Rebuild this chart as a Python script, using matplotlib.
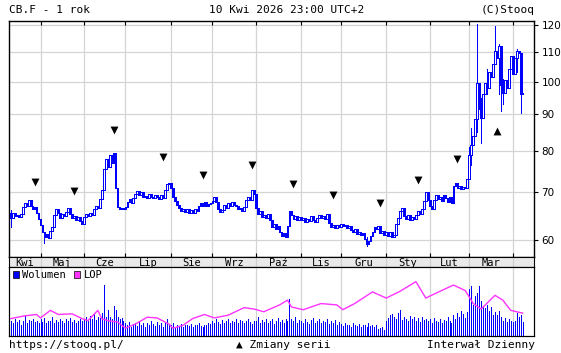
import numpy as np
import pandas as pd
import matplotlib
matplotlib.use("Agg")
import matplotlib.pyplot as plt
from matplotlib.patches import Patch
from matplotlib.ticker import NullLocator

# Notowania dzienne CB.F (zamkniecia), od 10 kwi 2025
close = [
    # kwi 2025
    64.5, 65.5, 64.8, 65.0, 64.6, 65.3, 66.8, 67.5, 67.0, 68.2, 67.0, 66.4, 66.8, 65.5, 64.2,
    # maj
    63.0, 61.5, 60.5, 61.2, 60.3, 61.8, 62.5, 65.0, 66.3, 65.5, 64.5, 65.2, 64.8, 65.6, 66.6,
    65.3, 64.5, 64.9, 64.0, 64.6, 63.8, 63.2,
    # cze
    64.6, 65.2, 64.8, 65.5, 65.0, 66.2, 67.0, 66.6, 68.5, 70.5, 75.5, 78.0, 76.0, 78.8, 77.0,
    79.3, 71.0, 66.8, 66.2, 66.6, 66.3,
    # lip
    66.8, 67.9, 68.4, 67.6, 68.8, 69.5, 70.2, 69.3, 70.0, 68.9, 69.2, 68.7, 69.6, 69.0, 68.6,
    69.3, 68.9, 68.5, 69.4, 68.8, 70.5, 71.8, 72.2,
    # sie
    71.0, 69.0, 68.0, 67.2, 66.5, 65.8, 66.4, 65.6, 66.2, 65.5, 66.0, 65.4, 66.3, 65.8, 66.9,
    67.5, 67.0, 67.8, 66.9, 67.3, 67.6,
    # wrz
    68.0, 69.0, 67.8, 66.3, 65.6, 66.0, 67.2, 66.6, 67.5, 67.0, 67.8, 67.2, 66.9, 66.2, 66.6,
    65.9, 66.8, 68.2, 69.0, 68.3, 70.4, 69.5,
    # paz
    66.5, 65.2, 65.8, 64.6, 65.0, 64.3, 65.3, 64.0, 62.6, 63.2, 62.2, 62.7, 61.5, 60.8, 61.3,
    60.6, 62.8, 65.8, 65.0, 64.2, 64.8, 63.9, 64.6,
    # lis
    64.0, 64.5, 63.6, 64.2, 63.7, 64.8, 64.0, 63.5, 64.3, 65.0, 64.4, 64.9, 64.2, 65.2, 63.4,
    62.6, 63.0, 62.4, 62.9, 62.5,
    # gru
    63.1, 62.7, 63.0, 62.3, 62.8, 62.0, 61.6, 62.2, 61.2, 61.5, 60.9, 61.3, 60.2, 59.3, 59.8,
    60.8, 61.5, 62.6, 62.2, 62.8, 61.4, 61.8, 60.9,
    # sty 2026
    61.5, 60.7, 61.6, 60.6, 61.0, 63.2, 64.5, 65.8, 66.6, 64.8, 64.2, 65.0, 64.0, 64.6, 64.1,
    65.0, 65.8, 65.2, 66.2, 68.0, 70.0, 68.3,
    # lut
    67.0, 66.3, 68.2, 69.4, 68.5, 69.0, 68.1, 69.3, 68.6, 67.8, 68.9, 67.6, 71.5, 72.0, 71.0,
    71.4, 70.8, 71.2, 71.0, 73.0,
    # mar
    79.0, 81.5, 84.0, 88.5, 99.5, 91.5, 89.0, 96.0, 99.5, 98.0, 103.0, 101.5, 106.0, 110.5,
    108.0, 112.0, 99.0, 96.5, 100.5, 98.0, 104.0, 108.5,
    # kwi 2026
    102.5, 108.0, 110.5, 109.5, 96.0, 96.5,
]
first_open = 65.5

# wybrane knoty (indeks sesji, minimum, maksimum)
wick_idx = [0, 17, 180, 232, 233, 236, 238, 241, 245, 247, 248, 249, 256, 258]
wick_lo = [62.5, 59.5, 58.8, 75.8, 76.5, 85.0, 82.0, 96.0, 106.0, 96.0, 91.0, 93.0, 103.0, 90.5]
wick_hi = [66.0, 61.5, 60.5, 81.0, 86.0, 120.5, 95.0, 104.0, 119.5, 113.0, 100.0, 101.0, 111.0, 99.5]

# wolumen (jedn. umowne)
volume = [
    22, 19, 24, 20, 23, 15, 21, 29, 18, 23, 21, 25, 20, 22, 18,
    24, 20, 26, 19, 22, 21, 27, 18, 23, 20, 25, 22, 19, 24, 21, 26, 20, 23, 18, 22, 25, 21,
    24, 27, 22, 29, 25, 31, 23, 28, 26, 33, 74, 28, 37, 27, 25, 44, 38, 27, 24, 26, 21,
    18, 15, 20, 13, 17, 19, 14, 21, 16, 18, 12, 19, 15, 22, 17, 14, 20, 16, 18, 13, 19, 24, 17,
    15, 18, 13, 16, 14, 17, 12, 15, 16, 14, 17, 13, 16, 15, 18, 14, 12, 16, 15, 19, 17,
    22, 18, 24, 20, 17, 23, 19, 21, 25, 18, 22, 20, 24, 19, 23, 21, 18, 22, 25, 20, 17, 21,
    21, 27, 18, 23, 20, 25, 19, 22, 24, 17, 21, 26, 20, 23, 19, 24, 22, 54, 25, 21, 27, 19, 23,
    22, 18, 25, 20, 17, 23, 26, 19, 21, 24, 18, 22, 20, 25, 17, 21, 19, 23, 16, 20,
    17, 14, 19, 15, 16, 13, 18, 15, 14, 17, 12, 16, 15, 13, 18, 14, 16, 12, 15, 10, 11, 13, 9,
    22, 26, 30, 31, 27, 24, 33, 37, 23, 28, 25, 21, 29, 24, 27, 22, 26, 20, 28, 23, 25, 21,
    24, 19, 26, 22, 20, 25, 18, 23, 21, 27, 22, 19, 30, 25, 33, 28, 36, 31, 26, 35,
    68, 72, 45, 58, 62, 72, 50, 44, 40, 45, 36, 42, 30, 34, 30, 36, 28, 22, 26, 20, 24, 21,
    20, 22, 33, 28, 30, 20,
]

# LOP (liczba otwartych pozycji, jedn. umowne)
lop_idx = [0, 7, 13, 15, 20, 24, 31, 36, 39, 44, 46, 49, 54, 58, 63, 69, 74, 80, 82, 87,
           92, 98, 103, 110, 118, 123, 128, 136, 140, 142, 148, 157, 165, 168, 174, 183, 190,
           197, 205, 210, 215, 224, 230, 234, 238, 245, 249, 253, 259]
lop_val = [25, 29, 31, 26, 37, 31, 32, 25, 22, 37, 25, 22, 20, 11, 17, 27, 26, 17, 11, 15,
           25, 31, 26, 30, 41, 39, 35, 45, 52, 42, 38, 47, 45, 38, 47, 64, 55,
           65, 79, 55, 62, 74, 66, 47, 39, 59, 52, 37, 33]

# zmiany serii
roll_idx = [12, 32, 52, 77, 97, 122, 143, 163, 187, 206, 226, 246]
roll_y = [72.4, 70.3, 85.5, 78.4, 73.9, 76.3, 71.9, 69.3, 67.7, 72.8, 77.8, 85.4]
roll_up = [False] * 11 + [True]

yticks = [60, 70, 80, 90, 100, 110, 120]
pl_months = {1: "Sty", 2: "Lut", 3: "Mar", 4: "Kwi", 5: "Maj", 6: "Cze",
             7: "Lip", 8: "Sie", 9: "Wrz", 10: "Paź", 11: "Lis", 12: "Gru"}

BLUE = "#0000ff"
GRID = "#d4d4d4"
MONO = ["DejaVu Sans Mono", "DejaVu Sans"]

dates = pd.bdate_range("2025-04-10", periods=len(close))
x = np.arange(len(close))
close = np.array(close)
opens = np.concatenate([[first_open], close[:-1]])
month_starts = [i for i in range(1, len(dates)) if dates[i].month != dates[i - 1].month]
XMIN, XMAX = -0.7, 265

fig = plt.figure(figsize=(5.61, 3.53), dpi=100)
L, W = 0.0169, 0.9358
ax = fig.add_axes([L, 0.2728, W, 0.6663])
band = fig.add_axes([L, 0.2428, W, 0.0300])
axv = fig.add_axes([L, 0.049, W, 0.1938])

# --- ceny ---
ax.set_yscale("log")
for m in month_starts:
    ax.axvline(m, color=GRID, lw=0.9, zorder=0)
for t in yticks:
    ax.axhline(t, color=GRID, lw=0.9, zorder=0)

ax.vlines(wick_idx, wick_lo, wick_hi, color=BLUE, lw=0.7, zorder=2, antialiased=False)

up = close >= opens
bottoms = np.minimum(opens, close)
heights = np.maximum(np.abs(close - opens), 0.15)
ax.bar(x[up], heights[up], bottom=bottoms[up], width=0.9, facecolor="white",
       edgecolor=BLUE, lw=0.5, zorder=3, antialiased=False)
ax.bar(x[~up], heights[~up], bottom=bottoms[~up], width=0.9, facecolor=BLUE,
       edgecolor=BLUE, lw=0.5, zorder=3, antialiased=False)

for xi, yi, u in zip(roll_idx, roll_y, roll_up):
    ax.scatter(xi, yi, marker="^" if u else "v", s=32, color="black", zorder=4, lw=0)

ax.set_xlim(XMIN, XMAX)
ax.set_ylim(56.84, 121.4)
ax.yaxis.set_minor_locator(NullLocator())
ax.set_yticks(yticks)
ax.set_yticklabels([str(t) for t in yticks])
ax.yaxis.tick_right()
ax.tick_params(axis="y", direction="out", length=3, labelsize=7.5, pad=2, width=0.8)
ax.set_xticks(month_starts)
ax.set_xticklabels([])
ax.tick_params(axis="x", direction="in", length=3, top=True, bottom=True, width=0.8)
for s in ax.spines.values():
    s.set_linewidth(1.0)

# --- pasek miesiecy ---
band.set_facecolor("#e9e9e9")
band.set_xlim(XMIN, XMAX)
band.set_ylim(0, 1)
for m in month_starts:
    band.axvline(m, color="#cfcfcf", lw=0.9)
edges = [XMIN] + month_starts + [XMAX]
for a, b in zip(edges[:-1], edges[1:]):
    if b - a >= 13:
        idx = int(max(a, 0))
        band.text((a + b) / 2, 0.45, pl_months[dates[idx].month], ha="center", va="center",
                  fontsize=7.5, family=MONO)
band.set_xticks([])
band.set_yticks([])

# --- wolumen i LOP ---
for m in month_starts:
    axv.axvline(m, color=GRID, lw=0.9, zorder=0)
axv.vlines(x, 0, volume, color=BLUE, lw=0.55, zorder=2, antialiased=False)
axv.set_xlim(XMIN, XMAX)
axv.set_ylim(0, 100)
axv.set_xticks([])
axv.set_yticks([])
axl = axv.twinx()
axl.plot(lop_idx, lop_val, color="#ff33ff", lw=1.0, zorder=3)
axl.set_ylim(0, 100)
axl.set_yticks([])
axl.set_xlim(XMIN, XMAX)
axv.legend(handles=[Patch(facecolor=BLUE, edgecolor="black", lw=0.5, label="Wolumen"),
                    Patch(facecolor="#ff33ff", edgecolor="black", lw=0.5, label="LOP")],
           loc="upper left", ncol=2, frameon=False, handlelength=0.6,
           handleheight=0.6, handletextpad=0.3, columnspacing=0.8, borderaxespad=0.1,
           borderpad=0.2, prop={"family": MONO, "size": 7.5})

# --- napisy ---
fig.text(9 / 561, 1 - 10 / 353, "CB.F - 1 rok", ha="left", va="center", fontsize=8, family=MONO)
fig.text(287 / 561, 1 - 10 / 353, "10 Kwi 2026 23:00 UTC+2", ha="center", va="center",
         fontsize=8, family=MONO)
fig.text(535 / 561, 1 - 10 / 353, "(C)Stooq", ha="right", va="center", fontsize=8, family=MONO)
fig.text(9 / 561, 1 - 345 / 353, "https://stooq.pl/", ha="left", va="center", fontsize=8,
         family=MONO)
fig.text(283 / 561, 1 - 345 / 353, "▲ Zmiany serii", ha="center", va="center", fontsize=8,
         family=MONO)
fig.text(535 / 561, 1 - 345 / 353, "Interwał Dzienny", ha="right", va="center", fontsize=8,
         family=MONO)

fig.savefig("out.png", dpi=100)
